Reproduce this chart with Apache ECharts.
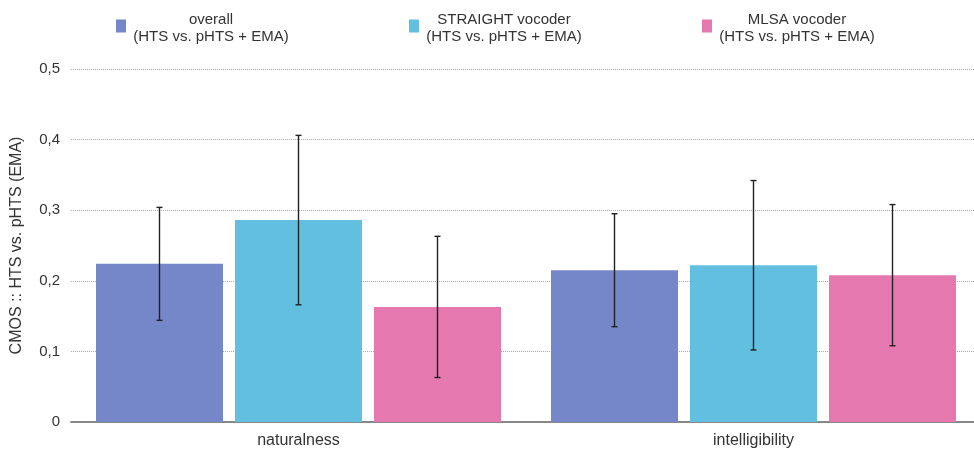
<!DOCTYPE html>
<html>
<head>
<meta charset="utf-8">
<script src="https://cdn.jsdelivr.net/npm/echarts@6/dist/echarts.min.js"></script>
<style>
  html, body { margin: 0; padding: 0; background: #fff; }
  #chart { width: 974px; height: 451px; }
</style>
</head>
<body>
<div id="chart"></div>
<script>
// Categories and series
const categories = ['naturalness', 'intelligibility'];
const seriesNames = ['overall', 'STRAIGHT vocoder', 'MLSA vocoder'];
const seriesSub = '(HTS vs. pHTS + EMA)';
const colors = ['#7587C9', '#63BFE0', '#E579AF'];

// Mean CMOS values per category
const overallMeans = [0.224, 0.215];
const straightMeans = [0.286, 0.222];
const mlsaMeans = [0.163, 0.208];

// Half-width of the confidence intervals
const overallErr = [0.080, 0.080];
const straightErr = [0.120, 0.120];
const mlsaErr = [0.100, 0.100];

const yTicks = [0, 0.1, 0.2, 0.3, 0.4, 0.5];

const means = [overallMeans, straightMeans, mlsaMeans];
const errs = [overallErr, straightErr, mlsaErr];

const BAR_W = 127;
const BAR_GAP = 12;
const FONT = "'Liberation Sans', Arial, sans-serif";

const chart = echarts.init(document.getElementById('chart'), null, { renderer: 'canvas' });

const barSeries = seriesNames.map((name, i) => ({
  name: name,
  type: 'bar',
  data: means[i],
  barWidth: BAR_W,
  barGap: (BAR_GAP / BAR_W * 100) + '%',
  itemStyle: { color: colors[i] },
  emphasis: { disabled: true },
  z: 2
}));

const errSeries = seriesNames.map((name, i) => ({
  name: name,
  type: 'custom',
  z: 5,
  data: categories.map((c, k) => [k, means[i][k] - errs[i][k], means[i][k] + errs[i][k]]),
  renderItem: function (params, api) {
    const k = api.value(0);
    const lo = api.coord([k, api.value(1)]);
    const hi = api.coord([k, api.value(2)]);
    const x = lo[0] + (i - 1) * (BAR_W + BAR_GAP);
    const cap = 3;
    const style = { stroke: '#222', lineWidth: 1.4 };
    return {
      type: 'group',
      children: [
        { type: 'line', shape: { x1: x, y1: hi[1], x2: x, y2: lo[1] }, style: style },
        { type: 'line', shape: { x1: x - cap, y1: hi[1], x2: x + cap, y2: hi[1] }, style: style },
        { type: 'line', shape: { x1: x - cap, y1: lo[1], x2: x + cap, y2: lo[1] }, style: style }
      ]
    };
  },
  silent: true,
  tooltip: { show: false }
}));

chart.setOption({
  animation: false,
  textStyle: { fontFamily: FONT },
  legend: {
    data: seriesNames,
    left: 111,
    top: 7,
    itemWidth: 10,
    itemHeight: 17,
    itemGap: 118,
    // swatch sits in the upper part of its box, level with the first text line
    icon: 'path://M0,0L10,0L10,13L0,13Z M0,17L0.001,17L0,17.001Z',
    formatter: function (n) { return '{t|' + n + '}\n{t|' + seriesSub + '}'; },
    textStyle: {
      color: '#333',
      fontSize: 15,
      fontFamily: FONT,
      rich: { t: { width: 160, align: 'center', fontSize: 15, lineHeight: 17, color: '#333', fontFamily: FONT } }
    }
  },
  grid: { left: 71, top: 69, right: -7, bottom: 29, containLabel: false, outerBoundsMode: 'none' },
  xAxis: {
    type: 'category',
    data: categories,
    axisLine: { lineStyle: { color: '#888', width: 2 } },
    axisTick: { show: false },
    axisLabel: { color: '#333', fontSize: 16, margin: 11, fontFamily: FONT }
  },
  yAxis: {
    type: 'value',
    min: yTicks[0],
    max: yTicks[yTicks.length - 1],
    interval: 0.1,
    name: 'CMOS :: HTS vs. pHTS (EMA)',
    nameLocation: 'middle',
    nameGap: 46,
    nameTextStyle: { color: '#333', fontSize: 16, fontFamily: FONT },
    axisLine: { show: false },
    axisTick: { show: false },
    axisLabel: {
      color: '#333', fontSize: 15, margin: 11, fontFamily: FONT,
      formatter: v => (Math.round(v * 10) / 10).toString().replace('.', ',')
    },
    splitLine: { lineStyle: { color: '#aaa', type: [1, 1], width: 1 } }
  },
  series: barSeries.concat(errSeries)
});
</script>
</body>
</html>
